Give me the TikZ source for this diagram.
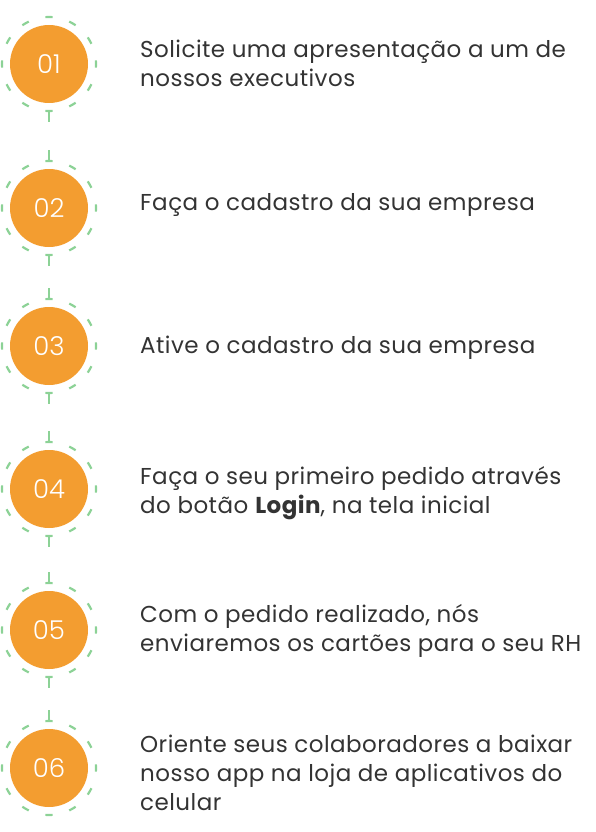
\documentclass[tikz,border=0pt]{standalone}
\usepackage{fontspec}
\setmainfont{Poppins}[LetterSpace=2]
\newfontfamily\numfont{Poppins Light}
\usetikzlibrary{calc}
\definecolor{stepor}{RGB}{243,157,48}
\definecolor{ringgr}{RGB}{140,210,150}
\definecolor{txtgr}{RGB}{51,51,51}
\tikzset{
  disc/.style={circle,fill=stepor,minimum size=78pt,inner sep=0pt,text=white,font=\numfont\fontsize{26}{26}\selectfont},
  ring/.style={circle,minimum size=94pt,inner sep=0pt},
  ringdash/.style={draw=ringgr,line width=2.2pt},
  stem/.style={draw=ringgr,line width=2pt},
  label/.style={anchor=west,align=left,text=txtgr,inner sep=0pt,font=\fontsize{23}{29}\selectfont}
}
\newcommand{\ringdashes}[1]{%
  \foreach \a in {0,30,...,330}{\draw[ringdash] ($(#1.center)+(\a-4.5:47pt)$) arc[start angle=\a-4.5,end angle=\a+4.5,radius=47pt];}}
\begin{document}
\begin{tikzpicture}[x=1pt,y=1pt]
\useasboundingbox (0,0) rectangle (596,-832);
\foreach \n/\y in {1/64,2/208,3/346,4/489,5/630,6/768}{
  \node[ring] (r\n) at (49,-\y) {};
  \node[disc] (d\n) at (49,-\y) {0\n};
  \ringdashes{r\n}
}
\foreach \a/\b in {1/2,2/3,3/4,4/5,5/6}{
  \draw[stem] (r\a.south) -- ($(r\a.south)!11pt!(r\b.north)$);
  \draw[stem] (r\b.north) -- ($(r\b.north)!11pt!(r\a.south)$);
}
\node[label] (t1) at (140,-63) {Solicite uma apresentação a um de\\nossos executivos};
\node[label] (t2) at (140,-205) {Faça o cadastro da sua empresa};
\node[label] (t3) at (140,-348) {Ative o cadastro da sua empresa};
\node[label] (t4) at (140,-493) {Faça o seu primeiro pedido através\\do botão \textbf{Login}, na tela inicial};
\node[label] (t5) at (140,-631) {Com o pedido realizado, nós\\enviaremos os cartões para o seu RH};
\node[label] (t6) at (140,-773) {Oriente seus colaboradores a baixar\\nosso app na loja de aplicativos do\\celular};
\end{tikzpicture}
\end{document}
